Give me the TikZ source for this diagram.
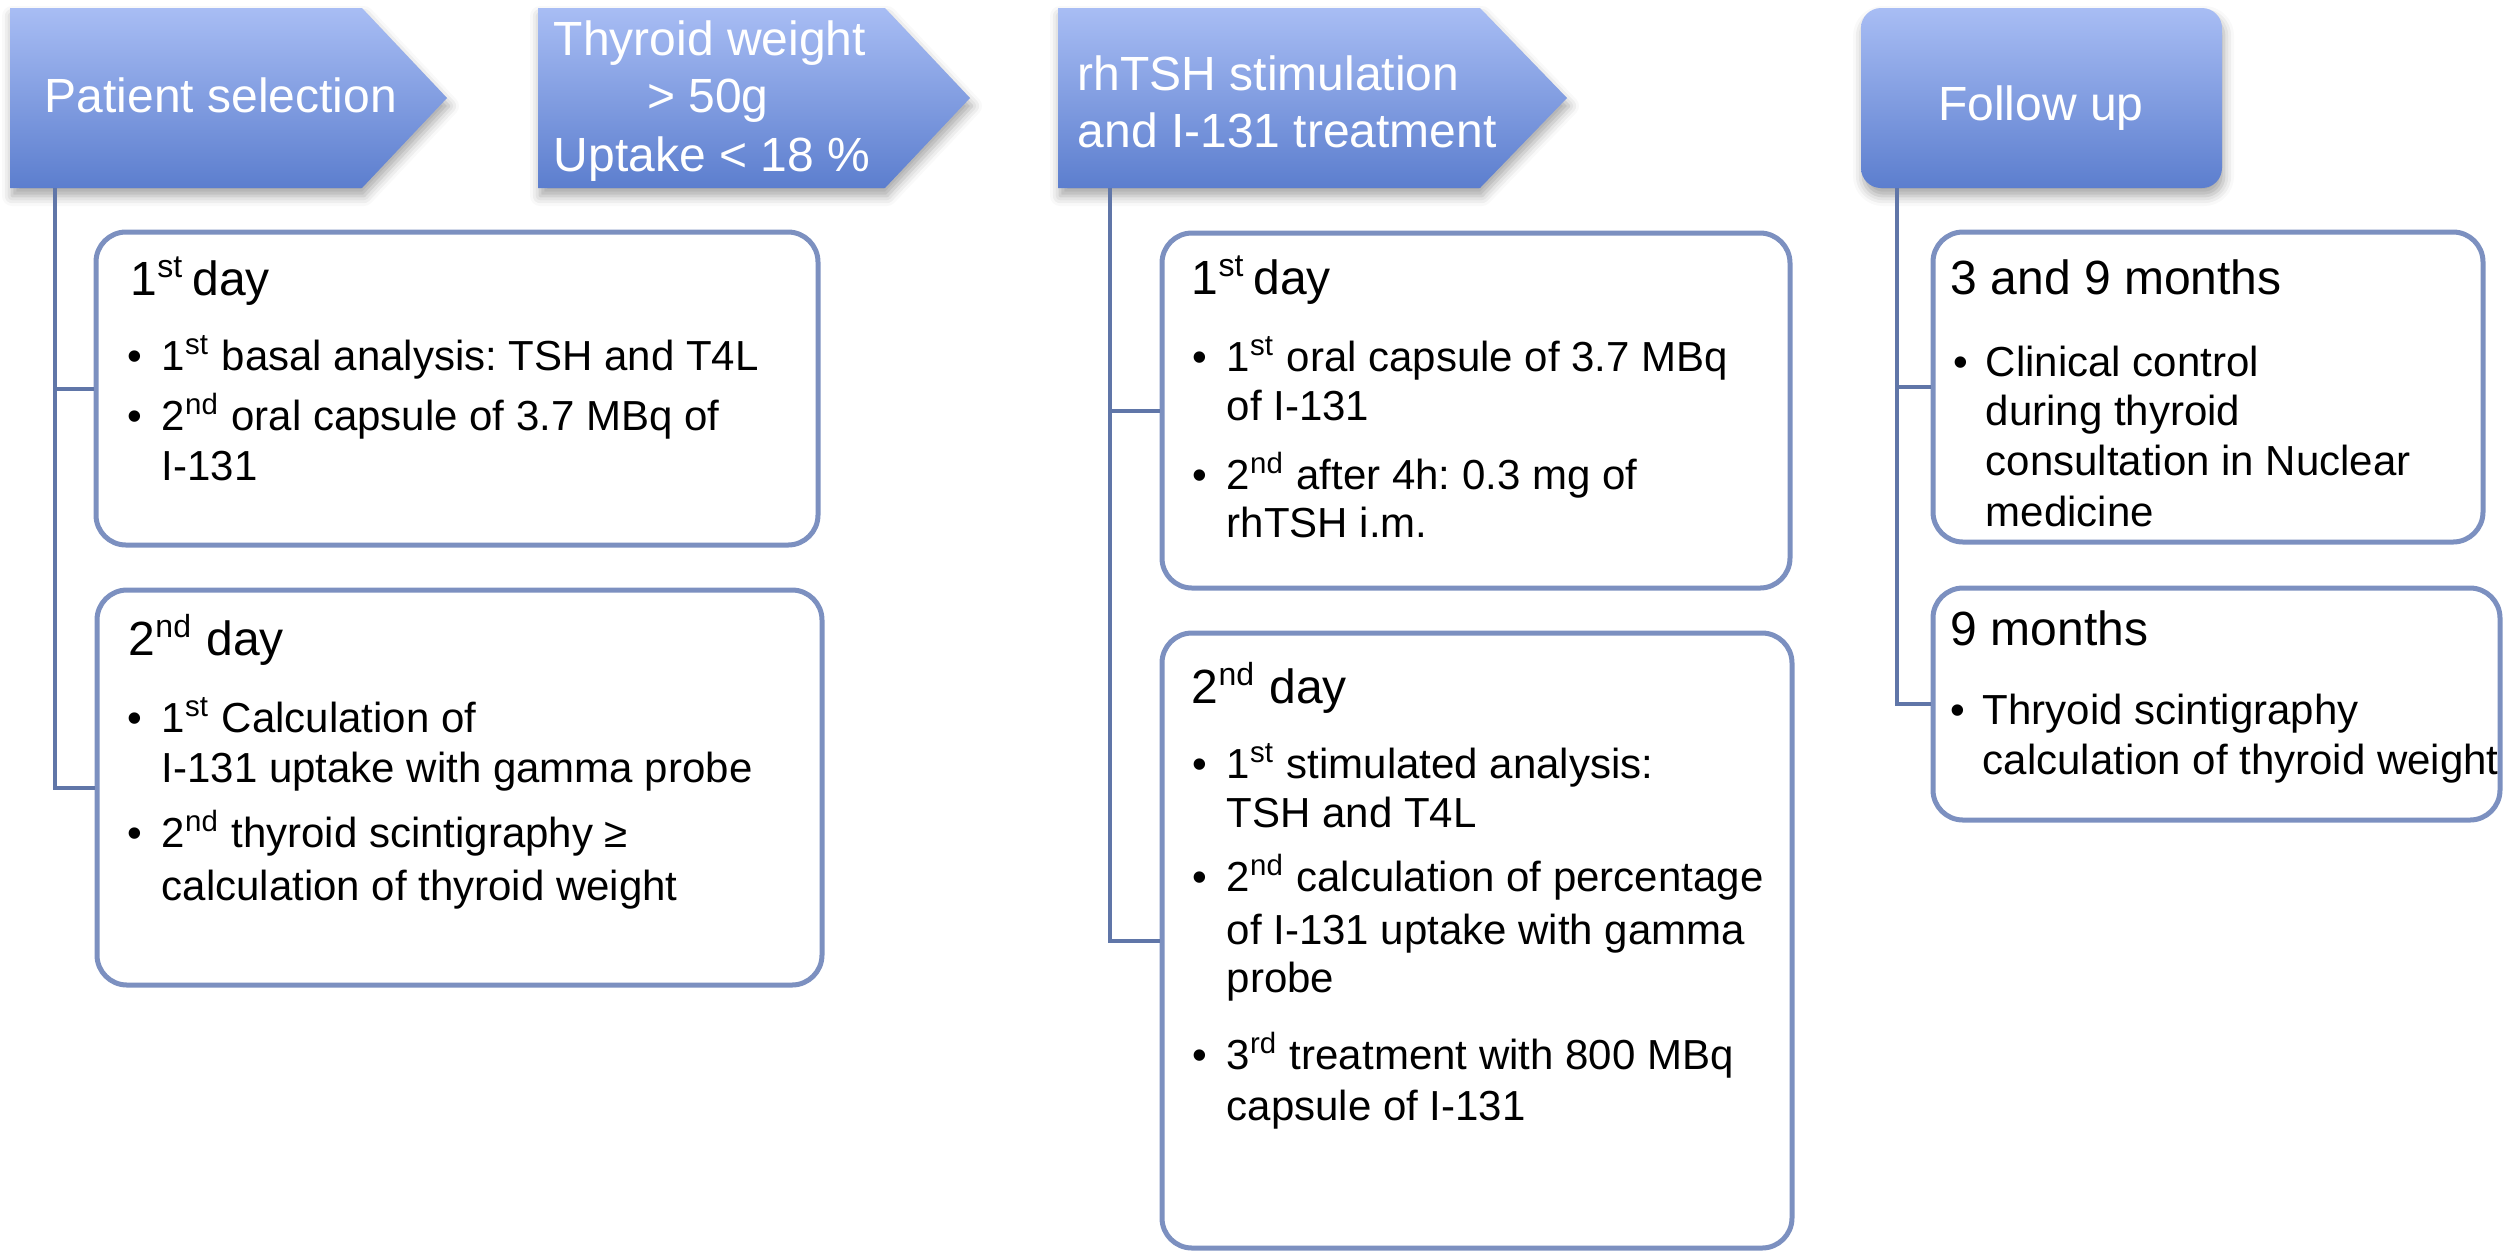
\documentclass[tikz,border=0pt]{standalone}
\usepackage{fontspec}
\setmainfont{Liberation Sans}
\usetikzlibrary{fit,shadows.blur}
\frenchspacing
\definecolor{hdrtop}{RGB}{168,189,244}
\definecolor{hdrbot}{RGB}{92,126,206}
\definecolor{boxcol}{RGB}{124,144,192}
\definecolor{conncol}{RGB}{96,118,168}
\newcommand{\mybul}{\llap{\textbullet\hspace{4.9pt}}}
\newcommand{\mybulr}{\llap{\textbullet\hspace{4.4pt}}}
\tikzset{
  hdr/.style={top color=hdrtop, bottom color=hdrbot,
    blur shadow={shadow xshift=0.5pt, shadow yshift=-2pt, shadow blur radius=2.5pt, shadow opacity=35}},
  hdrtxt/.style={text=white, font=\fontsize{12}{14.5}\selectfont, inner sep=0},
  boxstyle/.style={draw=boxcol, line width=1.25pt, rounded corners=7.5pt, fill=white, inner sep=0},
  conn/.style={draw=conncol, line width=1pt},
  headtxt/.style={font=\fontsize{12}{14}\selectfont, anchor=base west, inner sep=0},
  bodytxt/.style={font=\fontsize{10.5}{12.5}\selectfont, anchor=base west, inner sep=0},
}
\begin{document}
\begin{tikzpicture}[x=0.25pt,y=-0.25pt]
\useasboundingbox (0,0) rectangle (2507,1257);
% headers
\path[hdr] (10,8) -- (362,8) -- (447,98) -- (362,188) -- (10,188) -- cycle;
\path[hdr] (538,8) -- (885,8) -- (970,98) -- (885,188) -- (538,188) -- cycle;
\path[hdr] (1058,8) -- (1480,8) -- (1567,98) -- (1480,188) -- (1058,188) -- cycle;
\path[hdr, rounded corners=5pt] (1861,8) rectangle (2222,188);
\node[hdrtxt, anchor=base] (h1) at (221,112) {Patient selection};
\node[hdrtxt, anchor=base] (h2a) at (710,55) {Thyroid weight};
\node[hdrtxt, anchor=base] (h2b) at (708,112) {> 50g};
\node[hdrtxt, anchor=base] (h2c) at (712,171) {Uptake < 18 \%};
\node[hdrtxt, anchor=base west] (h3a) at (1077,90) {rhTSH stimulation};
\node[hdrtxt, anchor=base west] (h3b) at (1077,147) {and I-131 treatment};
\node[hdrtxt, anchor=base] (h4) at (2041,120) {Follow up};
\coordinate (h1s) at (55,188);
\coordinate (h3s) at (1110,188);
\coordinate (h4s) at (1897,188);
% boxes
\node[boxstyle, fit={(96,232) (818,545)}] (l1) {};
\node[boxstyle, fit={(97,590) (822,985)}] (l2) {};
\node[boxstyle, fit={(1162,233) (1790,588)}] (m1) {};
\node[boxstyle, fit={(1162,633) (1792,1248)}] (m2) {};
\node[boxstyle, fit={(1933,232) (2483,542)}] (r1) {};
\node[boxstyle, fit={(1933,588) (2500,820)}] (r2) {};
% connectors
\draw[conn] (h1s) |- (l1.west);
\draw[conn] (h1s) |- (l2.west);
\draw[conn] (h3s) |- (m1.west);
\draw[conn] (h3s) |- (m2.west);
\draw[conn] (h4s) |- (r1.west);
\draw[conn] (h4s) |- (r2.west);
% left column text
\node[headtxt] (l1h) at (130,295) {1\textsuperscript{st}\,day};
\node[bodytxt] (l1a) at (161,370) {\mybul 1\textsuperscript{st} basal analysis: TSH and T4L};
\node[bodytxt] (l1b) at (161,430) {\mybul 2\textsuperscript{nd} oral capsule of 3.7 MBq of};
\node[bodytxt] (l1c) at (161,480) {I-131};
\node[headtxt] (l2h) at (128,655) {2\textsuperscript{nd} day};
\node[bodytxt] (l2a) at (161,732) {\mybul 1\textsuperscript{st} Calculation of};
\node[bodytxt] (l2b) at (161,782) {I-131 uptake with gamma probe};
\node[bodytxt] (l2c) at (161,847) {\mybul 2\textsuperscript{nd} thyroid scintigraphy ≥};
\node[bodytxt] (l2d) at (161,900) {calculation of thyroid weight};
% middle column text
\node[headtxt] (m1h) at (1191,294) {1\textsuperscript{st}\,day};
\node[bodytxt] (m1a) at (1226,371) {\mybul 1\textsuperscript{st} oral capsule of 3.7 MBq};
\node[bodytxt] (m1b) at (1226,420) {of I-131};
\node[bodytxt] (m1c) at (1226,489) {\mybul 2\textsuperscript{nd} after 4h: 0.3 mg of};
\node[bodytxt] (m1d) at (1226,537) {rhTSH i.m.};
\node[headtxt] (m2h) at (1191,703) {2\textsuperscript{nd} day};
\node[bodytxt] (m2a) at (1226,778) {\mybul 1\textsuperscript{st} stimulated analysis:};
\node[bodytxt] (m2b) at (1226,827) {TSH and T4L};
\node[bodytxt] (m2c) at (1226,891) {\mybul 2\textsuperscript{nd} calculation of percentage};
\node[bodytxt] (m2d) at (1226,944) {of I-131 uptake with gamma};
\node[bodytxt] (m2e) at (1226,992) {probe};
\node[bodytxt] (m2f) at (1226,1069) {\mybul 3\textsuperscript{rd} treatment with 800 MBq};
\node[bodytxt] (m2g) at (1226,1120) {capsule of I-131};
% right column text
\node[headtxt] (r1h) at (1950,294) {3 and 9 months};
\node[bodytxt] (r1a) at (1985,376) {\mybulr Clinical control};
\node[bodytxt] (r1b) at (1985,425) {during thyroid};
\node[bodytxt] (r1c) at (1985,475) {consultation in Nuclear};
\node[bodytxt] (r1d) at (1985,526) {medicine};
\node[headtxt] (r2h) at (1950,645) {9 months};
\node[bodytxt] (r2a) at (1982,724) {\mybulr Thryoid scintigraphy};
\node[bodytxt] (r2b) at (1982,774) {calculation of thyroid weight};
\end{tikzpicture}
\end{document}
